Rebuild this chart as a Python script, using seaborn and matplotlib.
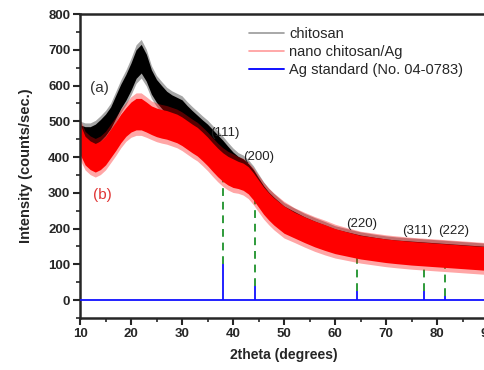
import numpy as np
import pandas as pd
import matplotlib
matplotlib.use("Agg")
import matplotlib.pyplot as plt
from matplotlib.lines import Line2D
from matplotlib.ticker import MultipleLocator
import seaborn as sns

two_theta = [10, 11, 12, 13, 14, 15, 16, 17, 18, 19, 20, 21, 22, 23, 24, 25, 26, 27, 28, 29,
             30, 31, 32, 33, 34, 35, 36, 37, 38, 39, 40, 41, 42, 43, 44, 45, 46, 47, 48, 50,
             52, 54, 56, 58, 60, 62, 65, 68, 70, 72, 75, 78, 80, 82, 85, 88, 90]

# chitosan (a): band centre and half width
chitosan_mid = [460, 455, 455, 462, 475, 490, 510, 540, 570, 595, 625, 660, 675, 650, 610, 585, 568, 552, 542, 535,
                528, 512, 498, 485, 472, 460, 445, 430, 415, 398, 382, 372, 365, 352, 335, 312, 290, 272, 258, 235,
                220, 205, 193, 182, 173, 166, 157, 150, 146, 143, 140, 137, 135, 133, 130, 127, 125]
chitosan_hw = [30, 30, 30, 30, 30, 30, 30, 32, 34, 36, 38, 40, 40, 38, 34, 32, 32, 32, 32, 32,
               32, 32, 32, 32, 32, 32, 32, 32, 32, 32, 32, 30, 30, 30, 30, 30, 30, 30, 30, 28,
               28, 28, 28, 28, 26, 26, 25, 25, 25, 25, 25, 25, 25, 25, 25, 25, 25]

# nano chitosan/Ag (b)
nano_mid = [450, 418, 405, 398, 405, 418, 438, 458, 480, 498, 512, 520, 520, 512, 503, 497, 493, 490, 485, 480,
            472, 462, 452, 443, 430, 416, 400, 385, 372, 362, 355, 350, 345, 335, 318, 298, 278, 262, 248, 225,
            210, 197, 185, 175, 165, 158, 148, 142, 138, 135, 131, 128, 126, 124, 121, 118, 116]
nano_hw = [42, 40, 40, 40, 40, 40, 40, 40, 40, 40, 42, 44, 44, 42, 40, 40, 40, 40, 40, 40,
           40, 40, 40, 40, 40, 40, 40, 40, 40, 40, 40, 38, 38, 38, 38, 38, 38, 38, 38, 38,
           36, 36, 36, 36, 35, 34, 33, 33, 33, 33, 33, 33, 33, 33, 33, 33, 33]

# Ag standard card No. 04-0783
ag_pos = [38.1, 44.3, 64.4, 77.4, 81.5]
ag_int = [100, 40, 25, 26, 12]
ag_hkl = ["(111)", "(200)", "(220)", "(311)", "(222)"]
guide_top = [400, 330, 150, 140, 135]
hkl_x = [38.3, 45.0, 65.2, 76.2, 83.2]
hkl_y = [467, 400, 212, 192, 192]


def band_frame(mid, hw, scale=1.0):
    lo = [m - scale * h for m, h in zip(mid, hw)]
    hi = [m + scale * h for m, h in zip(mid, hw)]
    return pd.DataFrame({"x": two_theta + two_theta, "y": lo + hi})


sns.set_style("ticks")
plt.rcParams["font.family"] = ["Liberation Sans", "DejaVu Sans"]

fig = plt.figure(figsize=(4.84, 3.7), dpi=100)
ax = fig.add_axes([80 / 484, 1 - 318 / 370, 408 / 484, 304 / 370])

# green guide lines from the standard peaks up to the pattern
ax.vlines(ag_pos, ag_int, guide_top, colors="#2e9a3a", linestyles=(0, (4, 3)), lw=1.4, zorder=1)

for mid, hw, col in [(chitosan_mid, chitosan_hw, "black"), (nano_mid, nano_hw, "red")]:
    for scale, alpha in [(1.35, 0.35), (1.0, 1.0)]:
        sns.lineplot(data=band_frame(mid, hw, scale), x="x", y="y", estimator="mean",
                     errorbar=("pi", 100), lw=0, color=col, legend=False, ax=ax,
                     err_kws={"alpha": alpha, "lw": 0, "zorder": 2})

# Ag standard stick pattern
ax.hlines(0, 10, 90, colors="#1010ff", lw=1.3, zorder=4)
ax.vlines(ag_pos, 0, ag_int, colors="#1010ff", lw=1.3, zorder=4)

for x, y, t in zip(hkl_x, hkl_y, ag_hkl):
    ax.text(x, y, t, fontsize=9.5, color="#222222", ha="center", va="center")
ax.text(13.9, 594, "(a)", fontsize=11, color="#333333", ha="center", va="center")
ax.text(14.3, 295, "(b)", fontsize=11, color="#e03434", ha="center", va="center")

ax.set_xlim(10, 90)
ax.set_ylim(-50, 800)
ax.xaxis.set_major_locator(MultipleLocator(10))
ax.xaxis.set_minor_locator(MultipleLocator(5))
ax.yaxis.set_major_locator(MultipleLocator(100))
ax.yaxis.set_minor_locator(MultipleLocator(50))
ax.tick_params(which="major", length=5, width=1.5, labelsize=9.5, pad=2)
ax.tick_params(which="minor", length=3, width=1.2)
for lab in ax.get_xticklabels() + ax.get_yticklabels():
    lab.set_fontweight("bold")
for s in ax.spines.values():
    s.set_linewidth(1.8)
    s.set_visible(True)

ax.set_xlabel("2theta (degrees)", fontsize=10, fontweight="bold", labelpad=6)
ax.set_ylabel("Intensity (counts/sec.)", fontsize=10.5, fontweight="bold", labelpad=11)

handles = [Line2D([], [], color="#9a9a9a", lw=1.2),
           Line2D([], [], color="#ff9a9a", lw=1.2),
           Line2D([], [], color="#1010ff", lw=1.4)]
ax.legend(handles, ["chitosan", "nano chitosan/Ag", "Ag standard (No. 04-0783)"],
          loc="upper left", bbox_to_anchor=(0.40, 0.975), frameon=False, fontsize=10.5,
          handlelength=2.4, handletextpad=0.35, labelspacing=0.25, borderaxespad=0)

fig.savefig("out.png", dpi=100)
